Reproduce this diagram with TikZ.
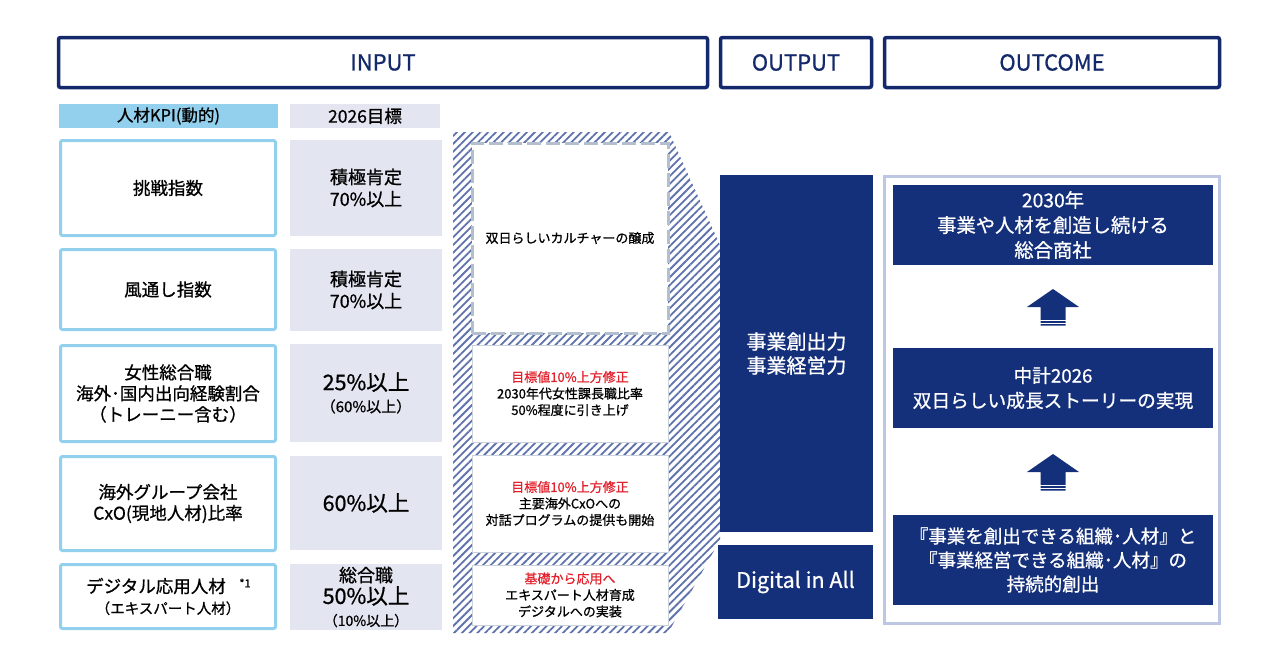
\documentclass[tikz,border=0pt]{standalone}
\usepackage{fontspec}
\setmainfont{Noto Sans CJK JP}[FakeBold=0.8]
\usetikzlibrary{positioning, calc, patterns.meta}

\definecolor{navyline}{HTML}{14296B}
\definecolor{navyfill}{HTML}{15307A}
\definecolor{kpiblue}{HTML}{92D0EE}
\definecolor{lavender}{HTML}{E3E5F1}
\definecolor{hatchblue}{HTML}{5E72AC}
\definecolor{dashgray}{HTML}{B3BECF}
\definecolor{panelline}{HTML}{BDC6E2}
\definecolor{redtext}{HTML}{E3202B}

\newcommand{\fsz}[2]{\fontsize{#1}{#2}\selectfont}

\tikzset{
  headbox/.style={draw=navyline, line width=3.5pt, rounded corners=2pt, fill=white,
    text=navyline, font=\fsz{22}{26}, minimum height=50pt, inner sep=0pt},
  labelbar/.style={minimum height=24pt, inner sep=0pt, font=\fsz{16.5}{18}},
  kpibox/.style={draw=kpiblue, line width=3pt, rounded corners=2pt, fill=white,
    align=center, minimum width=215pt, inner sep=0pt, font=\fsz{17.5}{21}},
  goalbox/.style={fill=lavender, align=center, minimum width=152pt, inner sep=0pt,
    font=\fsz{18}{22}},
  culturebox/.style={fill=white, draw=dashgray!70, line width=1pt, align=center,
    minimum width=196pt, inner sep=0pt, font=\fsz{13}{16.5}},
  navybox/.style={fill=navyfill, text=white, align=center, inner sep=0pt},
}

\begin{document}
\begin{tikzpicture}[x=1pt, y=-1pt]
        \useasboundingbox (0,0) rectangle (1280,667);
        % top headers
        \node[headbox, minimum width=649pt] (input) at (383,62.5) {INPUT};
        \node[headbox, minimum width=151pt] (output) at (796,62.5) {OUTPUT};
        \node[headbox, minimum width=335pt] (outcome) at (1052,62.5) {OUTCOME};
        % column labels
        \node[labelbar, fill=kpiblue, minimum width=219pt] (kpihead) at (168.5,116) {人材KPI(動的)};
        \node[labelbar, fill=lavender, minimum width=150pt, font=\fsz{17.5}{18}] (goalhead) at (365,116) {2026目標};
        % KPI boxes
        \foreach \name/\y/\h/\txt in {
            kpiA/188/95/{挑戦指数},
            kpiB/289.5/80/{風通し指数},
            kpiC/393.5/96/{女性総合職\\海外･国内出向経験割合\\（トレーニー含む）},
            kpiD/503.5/94/{海外グループ会社\\CxO(現地人材)比率},
            kpiE/596.5/64/{デジタル応用人材\hspace*{24pt}\\{\fsz{14.5}{17}（エキスパート人材）}}}
        \node[kpibox, minimum height=\h pt] (\name) at (168,\y) {\txt};
        \node[font=\fsz{11}{12}] (note) at (245,583) {*1};
        % 2026 targets
        \foreach \name/\y/\h/\txt in {
            goalA/188/96/{積極肯定\\70\%以上},
            goalB/290/82/{積極肯定\\70\%以上},
            goalC/393/98/{{\fsz{21.5}{22}25\%以上}\\{\fsz{15}{20}（60\%以上）}},
            goalD/503/94/{{\fsz{21.5}{24}60\%以上}},
            goalE/597/66/{総合職\\{\fsz{21.5}{21}50\%以上}\\{\fsz{14}{16}（10\%以上）}}}
        \node[goalbox, minimum height=\h pt] (\name) at (366,\y) {\txt};
        % hatched funnel
        \fill[pattern={Lines[angle=45, distance=5.5pt, line width=1.8pt]}, pattern color=hatchblue]
            (453,132) -- (669,132) -- (720,245) -- (720,540) -- (668,633) -- (453,633) -- cycle;
        % culture boxes
        \node[culturebox, draw=dashgray, line width=3pt, dash pattern=on 14pt off 5pt,
            minimum height=190pt] (cultA) at (570,238) {双日らしいカルチャーの醸成};
        \foreach \name/\y/\h/\red/\txt in {
            cultB/393.5/97/{目標値10\%上方修正}/{2030年代女性課長職比率\\50\%程度に引き上げ},
            cultC/503.5/97/{目標値10\%上方修正}/{主要海外CxOへの\\対話プログラムの提供も開始},
            cultD/595/60/{基礎から応用へ}/{エキスパート人材育成\\デジタルへの実装}}
        \node[culturebox, minimum height=\h pt] (\name) at (570,\y) {\textcolor{redtext}{\red}\\\txt};
        % output column
        \node[navybox, minimum width=153pt, minimum height=357pt, font=\fsz{20}{24}]
            (power) at (796.5,353.5) {事業創出力\\事業経営力};
        \node[navybox, minimum width=155pt, minimum height=74pt, font=\fsz{21.5}{22}]
            (digital) at (795.5,582) {Digital in All};
        % outcome panel
        \node[draw=panelline, line width=3pt, minimum width=335pt, minimum height=447pt] (panel) at (1052,400) {};
        \node[navybox, minimum width=320pt, minimum height=80pt, font=\fsz{19.3}{25}]
            (goal) at (1053,225) {2030年\\事業や人材を創造し続ける\\総合商社};
        \node[navybox, minimum width=320pt, minimum height=80pt, font=\fsz{18.7}{25}]
            (plan) at (1053,388) {中計2026\\双日らしい成長ストーリーの実現};
        \node[navybox, minimum width=320pt, minimum height=90pt, font=\fsz{18.5}{24}]
            (base) at (1053,560) {『事業を創出できる組織･人材』と\\『事業経営できる組織･人材』の\\持続的創出};
        % up arrows
        \foreach \a/\b in {plan/goal, base/plan}{
            \coordinate (mid-\b) at ($(\a.north)!0.5!(\b.south)$);
            \fill[navyfill] ($(mid-\b)+(0,-17.5)$) -- ($(mid-\b)+(26,0.5)$) -- ($(mid-\b)+(12.5,0.5)$)
                -- ($(mid-\b)+(12.5,19)$) -- ($(mid-\b)+(-12.5,19)$) -- ($(mid-\b)+(-12.5,0.5)$)
                -- ($(mid-\b)+(-26,0.5)$) -- cycle;
            \draw[white, line width=1pt] ($(mid-\b)+(-13,13.5)$) -- +(26,0);
            \draw[white, line width=1pt] ($(mid-\b)+(-13,16.5)$) -- +(26,0);
        }
\end{tikzpicture}
\end{document}
